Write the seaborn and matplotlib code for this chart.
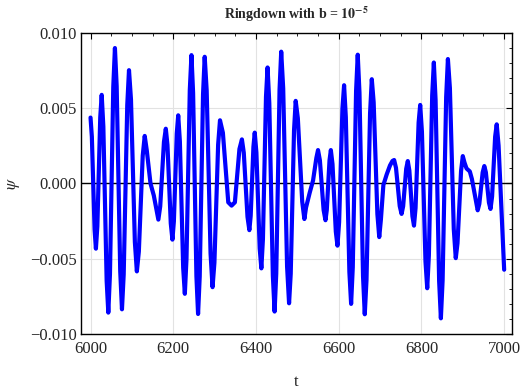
import matplotlib
matplotlib.use("Agg")
import matplotlib.pyplot as plt
import seaborn as sns
import pandas as pd
from matplotlib.ticker import MultipleLocator

# values: extrema, points near each tip, and shoulders
t = [6000, 6003.2, 6009.8, 6013, 6016.5, 6023.5, 6027, 6031, 6039, 6043, 6047,
     6055, 6059, 6063.2, 6071.8, 6076, 6080.2, 6088.8, 6093, 6097.8, 6107.2, 6112,
     6116.8, 6126.2, 6131, 6136, 6145, 6153, 6160.5, 6164, 6168.5, 6177.5, 6182,
     6186, 6194, 6198, 6201.5, 6208.5, 6212, 6216, 6224, 6228, 6232, 6240, 6244,
     6248, 6256, 6260, 6264, 6272, 6276, 6280.8, 6290.2, 6295, 6299.5, 6308.5,
     6313, 6320, 6333, 6341, 6349, 6360, 6366, 6370.5, 6379.5, 6384, 6387.2,
     6393.8, 6397, 6401, 6409, 6413, 6416.8, 6424.2, 6428, 6432.2, 6440.8, 6445,
     6449, 6457, 6461, 6465.8, 6475.2, 6480, 6484, 6492, 6496, 6501.2, 6511.8,
     6517, 6521, 6530, 6538, 6546, 6550, 6554.5, 6563.5, 6568, 6571.2, 6577.8,
     6581, 6585, 6593, 6597, 6601, 6609, 6613, 6617.2, 6625.8, 6630, 6634, 6642,
     6646, 6650.2, 6658.8, 6663, 6667.2, 6675.8, 6680, 6684.5, 6693.5, 6698, 6702,
     6708, 6716, 6724, 6730, 6734, 6738.5, 6747.5, 6752, 6755.8, 6763.2, 6767,
     6770.8, 6778.2, 6782, 6785.8, 6793.2, 6797, 6801.2, 6809.8, 6814, 6818, 6826,
     6830, 6834.2, 6842.8, 6847, 6851.2, 6859.8, 6864, 6868.8, 6878.2, 6883,
     6887.2, 6895.8, 6900, 6904, 6909, 6917, 6922, 6932, 6936, 6940, 6948, 6952,
     6955.8, 6963.2, 6967, 6970.8, 6978.2, 6982, 6986.5, 7000]
psi = [0.00438, 0.00311, -0.00306, -0.00433, -0.00284, 0.00440, 0.00589, 0.00378,
       -0.00647, -0.00858, -0.00601, 0.00643, 0.00900, 0.00647, -0.00583, -0.00836,
       -0.00604, 0.00521, 0.00753, 0.00558, -0.00389, -0.00584, -0.00453, 0.00185,
       0.00316, 0.00220, 0.00000, -0.00080, -0.00190, -0.00240, -0.00152, 0.00276,
       0.00364, 0.00256, -0.00265, -0.00373, -0.00252, 0.00332, 0.00453, 0.00280,
       -0.00560, -0.00733, -0.00501, 0.00621, 0.00853, 0.00602, -0.00616, -0.00867,
       -0.00617, 0.00592, 0.00842, 0.00618, -0.00465, -0.00689, -0.00527, 0.00258,
       0.00420, 0.00337, -0.00125, -0.00147, -0.00125, 0.00229, 0.00293, 0.00205,
       -0.00222, -0.00310, -0.00215, 0.00243, 0.00338, 0.00206, -0.00432, -0.00564,
       -0.00369, 0.00576, 0.00771, 0.00534, -0.00614, -0.00851, -0.00599, 0.00624,
       0.00876, 0.00632, -0.00552, -0.00796, -0.00600, 0.00353, 0.00549, 0.00434,
       -0.00121, -0.00236, -0.00160, -0.00060, 0.00020, 0.00170, 0.00222, 0.00154,
       -0.00176, -0.00244, -0.00176, 0.00154, 0.00222, 0.00129, -0.00320, -0.00413,
       -0.00257, 0.00497, 0.00653, 0.00441, -0.00588, -0.00800, -0.00558, 0.00614,
       0.00856, 0.00604, -0.00617, -0.00869, -0.00641, 0.00465, 0.00693, 0.00540,
       -0.00203, -0.00356, -0.00240, -0.00010, 0.00060, 0.00120, 0.00150, 0.00156,
       0.00104, -0.00150, -0.00202, -0.00151, 0.00098, 0.00149, 0.00086, -0.00217,
       -0.00280, -0.00163, 0.00405, 0.00522, 0.00344, -0.00518, -0.00696, -0.00477,
       0.00585, 0.00804, 0.00556, -0.00648, -0.00896, -0.00644, 0.00575, 0.00827,
       0.00634, -0.00303, -0.00496, -0.00397, 0.00083, 0.00182, 0.00140, 0.00100,
       0.00080, 0.00030, -0.00120, -0.00178, -0.00135, 0.00073, 0.00116, 0.00074,
       -0.00127, -0.00169, -0.00087, 0.00311, 0.00393, 0.00252, -0.00573]
x_ticks = [6000, 6200, 6400, 6600, 6800, 7000]
y_ticks = [-0.010, -0.005, 0.000, 0.005, 0.010]

df = pd.DataFrame({"t": t, "psi": psi})

sns.set_style("white")
plt.rcParams["font.family"] = ["Liberation Serif", "DejaVu Serif"]
plt.rcParams["mathtext.fontset"] = "stix"

fig = plt.figure(figsize=(5.23, 3.92), dpi=100)
ax = fig.add_axes([0.1549, 0.148, 0.8241, 0.7678])

# light grid at major ticks + black zero axis
for v in x_ticks:
    ax.axvline(v, color="#e2e2e2", lw=0.8, zorder=0)
for v in y_ticks:
    ax.axhline(v, color="#e2e2e2", lw=0.8, zorder=0)
ax.axhline(0, color="black", lw=1.0, zorder=1)

sns.lineplot(data=df, x="t", y="psi", ax=ax, color="#0000ff", lw=3.0,
             estimator=None, sort=False, zorder=3)
for line in ax.lines:
    line.set_solid_joinstyle("round")
    line.set_solid_capstyle("round")

ax.set_xlim(5977, 7019)
ax.set_ylim(-0.010, 0.010)
ax.set_xticks(x_ticks)
ax.set_yticks(y_ticks)
ax.set_yticklabels([f"{v:.3f}".replace("-", "\u2212") for v in y_ticks])
ax.xaxis.set_minor_locator(MultipleLocator(50))
ax.yaxis.set_minor_locator(MultipleLocator(0.001))
ax.tick_params(which="both", direction="in", top=True, right=True, color="black")
ax.tick_params(which="major", length=4, width=0.8, labelsize=12)
ax.tick_params(which="minor", length=2.5, width=0.6)
ax.tick_params(axis="x", which="major", pad=5)
ax.tick_params(axis="y", which="major", pad=3)
for s in ax.spines.values():
    s.set_color("black")
    s.set_linewidth(1.0)

ax.set_xlabel("t", fontsize=12, labelpad=12)
ax.set_ylabel(r"$\psi$", fontsize=12, labelpad=6)
ax.set_title(r"Ringdown with b = $\mathbf{10^{-5}}$", fontsize=10, fontweight="bold", pad=10)

fig.savefig("out.png", dpi=100)
